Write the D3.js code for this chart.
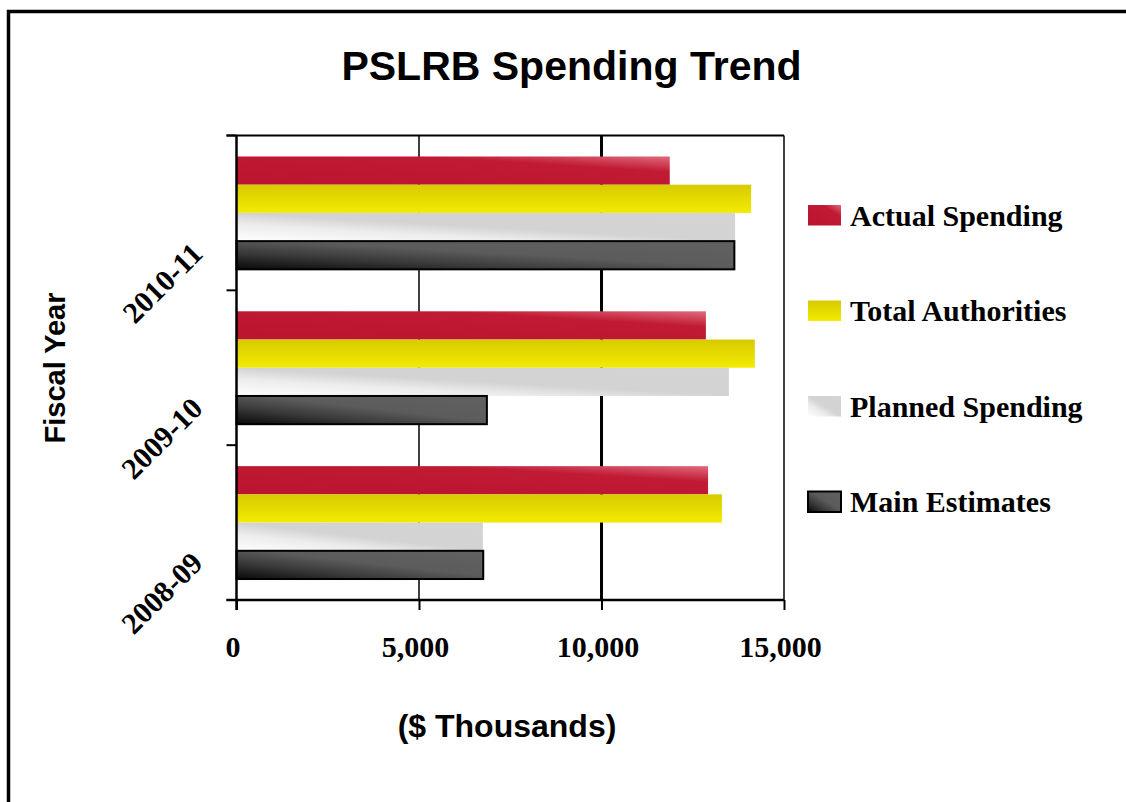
<html>
<head>
<script src="https://cdn.jsdelivr.net/npm/d3@7"></script>
<style>
  body { margin: 0; background: #fff; }
  svg { display: block; }
</style>
</head>
<body>
<svg></svg>
<script>
// fiscal years, top to bottom as drawn
var years = ["2010-11", "2009-10", "2008-09"];
// series, top to bottom inside each group
var series = ["Actual Spending", "Total Authorities", "Planned Spending", "Main Estimates"];
// $ thousands
var actual     = [11870, 12860, 12920];
var authority  = [14100, 14200, 13300];
var planned    = [13660, 13490, 6750];
var mainEst    = [13640, 6860, 6760];
var xTicks = [0, 5000, 10000, 15000];

var values = [actual, authority, planned, mainEst];

var width = 1126, height = 802;
var plot = { left: 236.5, right: 784, top: 135.5, bottom: 600 };

var svg = d3.select("svg")
    .attr("width", width)
    .attr("height", height);

// gradients, roughly like the office "shiny" fills
var defs = svg.append("defs");
var fills = [
  [[0, "#bc1430"], [0.72, "#c01a34"], [1, "#e06a7c"]],
  [[0, "#f3eb00"], [1, "#d8ca00"]],
  [[0, "#ffffff"], [0.3, "#ececec"], [0.5, "#d3d3d3"], [1, "#d4d4d4"]],
  [[0, "#080808"], [0.3, "#3a3a3a"], [0.55, "#5c5c5c"], [1, "#616161"]]
];
fills.forEach(function(stops, i) {
  var g = defs.append("linearGradient").attr("id", "fill" + i);
  if (i == 1) g.attr("x1", 0).attr("y1", 1).attr("x2", 0).attr("y2", 0);
  else g.attr("x1", 0).attr("y1", 1).attr("x2", 1).attr("y2", 0);
  stops.forEach(function(s) {
    g.append("stop").attr("offset", s[0]).attr("stop-color", s[1]);
  });
});

// outer frame
svg.append("rect")
    .attr("x", 8.5).attr("y", 11.5)
    .attr("width", 1300).attr("height", 1000)
    .attr("fill", "none").attr("stroke", "#000").attr("stroke-width", 3.5);

var x = d3.scaleLinear()
    .domain([0, 15000])
    .range([plot.left, plot.right]);

var y0 = d3.scaleBand()
    .domain(years)
    .range([plot.top, plot.bottom])
    .paddingInner(0.271)
    .paddingOuter(0.1355);

var y1 = d3.scaleBand()
    .domain(series)
    .range([0, y0.bandwidth()]);

// gridlines
svg.append("g").selectAll("line")
    .data(xTicks.slice(1))
    .enter().append("line")
    .attr("x1", function(d) { return x(d); })
    .attr("x2", function(d) { return x(d); })
    .attr("y1", plot.top).attr("y2", plot.bottom)
    .attr("stroke", "#000")
    .attr("stroke-width", function(d, i) { return i == 1 ? 3 : 1.5; });

// bars
var groups = svg.append("g").selectAll("g")
    .data(years)
    .enter().append("g")
    .attr("transform", function(d) { return "translate(0," + y0(d) + ")"; });

groups.selectAll("rect")
    .data(function(d, yi) {
      return series.map(function(s, si) { return { s: s, si: si, v: values[si][yi] }; });
    })
    .enter().append("rect")
    .attr("x", x(0))
    .attr("y", function(d) { return y1(d.s); })
    .attr("width", function(d) { return x(d.v) - x(0); })
    .attr("height", y1.bandwidth())
    .attr("fill", function(d) { return "url(#fill" + d.si + ")"; })
    .attr("stroke", function(d) { return d.si == 3 ? "#000" : "none"; })
    .attr("stroke-width", 2);

// top border
svg.append("line")
    .attr("x1", plot.left - 10).attr("x2", plot.right)
    .attr("y1", plot.top).attr("y2", plot.top)
    .attr("stroke", "#000").attr("stroke-width", 2);

// x axis
var xAxis = svg.append("g")
    .attr("transform", "translate(0," + plot.bottom + ")")
    .call(d3.axisBottom(x).tickValues(xTicks).tickSize(10).tickSizeOuter(0)
      .tickFormat(d3.format(",")));
xAxis.select(".domain").attr("stroke-width", 2.5)
    .attr("d", "M" + (plot.left - 10) + ",0H" + plot.right);
xAxis.selectAll(".tick line").attr("stroke-width", 2);
xAxis.selectAll(".tick text")
    .attr("y", 57).attr("dy", 0).attr("x", -4)
    .attr("font-family", "Liberation Serif, Times New Roman, serif")
    .attr("font-weight", "bold").attr("font-size", 30).attr("fill", "#000");

// y axis
svg.append("line")
    .attr("x1", plot.left).attr("x2", plot.left)
    .attr("y1", plot.top).attr("y2", plot.bottom + 10)
    .attr("stroke", "#000").attr("stroke-width", 2.5);

var bounds = years.map(function(d) { return y0(d) - y0.step() * y0.paddingInner() / 2; })
    .concat([plot.bottom]);
svg.append("g").selectAll("line")
    .data(bounds)
    .enter().append("line")
    .attr("x1", plot.left - 10).attr("x2", plot.left)
    .attr("y1", function(d) { return d; }).attr("y2", function(d) { return d; })
    .attr("stroke", "#000").attr("stroke-width", 2);

svg.append("g").selectAll("text")
    .data(years)
    .enter().append("text")
    .attr("transform", function(d) {
      return "translate(197," + (y0(d) + y0.bandwidth() / 2 + 35) + ") rotate(-45)";
    })
    .attr("text-anchor", "end")
    .attr("dy", "0.35em")
    .attr("font-family", "Liberation Serif, Times New Roman, serif")
    .attr("font-weight", "bold").attr("font-size", 30)
    .text(function(d) { return d; });

// titles
svg.append("text")
    .attr("x", 571.5).attr("y", 80)
    .attr("text-anchor", "middle")
    .attr("font-family", "Liberation Sans, Arial, sans-serif")
    .attr("font-weight", "bold").attr("font-size", 41)
    .text("PSLRB Spending Trend");

svg.append("text")
    .attr("x", 507).attr("y", 737)
    .attr("text-anchor", "middle")
    .attr("font-family", "Liberation Sans, Arial, sans-serif")
    .attr("font-weight", "bold").attr("font-size", 32)
    .text("($ Thousands)");

svg.append("text")
    .attr("transform", "translate(65,368) rotate(-90)")
    .attr("text-anchor", "middle")
    .attr("font-family", "Liberation Sans, Arial, sans-serif")
    .attr("font-weight", "bold").attr("font-size", 29)
    .text("Fiscal Year");

// legend
var legend = svg.append("g").selectAll("g")
    .data(series)
    .enter().append("g")
    .attr("transform", function(d, i) { return "translate(808," + (205 + i * 95.5) + ")"; });
legend.append("rect")
    .attr("width", 33).attr("height", 20.5)
    .attr("fill", function(d, i) { return "url(#fill" + i + ")"; })
    .attr("stroke", function(d, i) { return i == 3 ? "#000" : "none"; })
    .attr("stroke-width", 2);
legend.append("text")
    .attr("x", 42).attr("y", 20.7)
    .attr("font-family", "Liberation Serif, Times New Roman, serif")
    .attr("font-weight", "bold").attr("font-size", 30)
    .text(function(d) { return d; });
</script>
</body>
</html>
